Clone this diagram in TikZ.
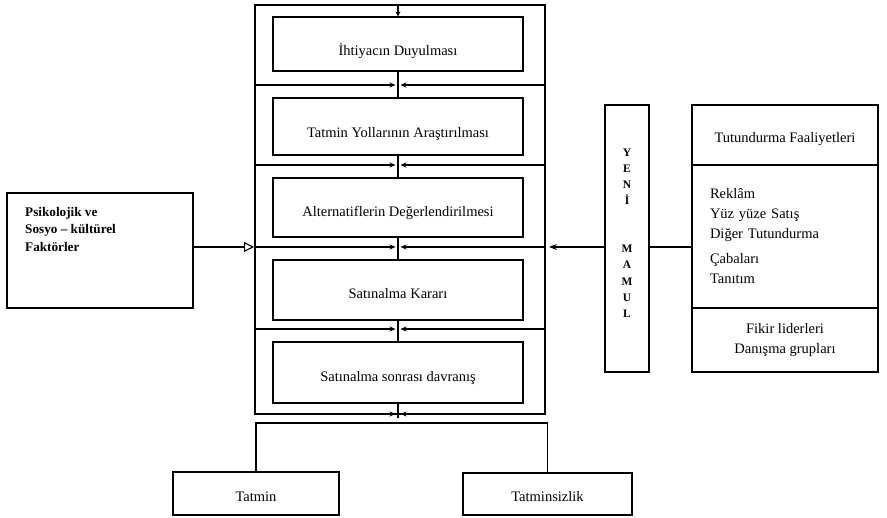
\documentclass[tikz,border=0pt]{standalone}
\usepackage{fontspec}
\setmainfont{Liberation Serif}
\usetikzlibrary{arrows.meta}
\begin{document}
\begin{tikzpicture}[x=1pt,y=-1pt,
  ln/.style={line width=1.1pt},
  rbox/.style={draw, line width=1.1pt, inner sep=0pt, font=\fontsize{14.5}{20}\selectfont},
  stagebox/.style={rbox, minimum width=250pt, text depth=0pt},
  sarr/.style={ln, -{Stealth[length=6pt,width=5pt]}, shorten >=2.5pt},
]
\useasboundingbox (0,0) rectangle (887,518);

% central stages
\node[stagebox, minimum height=54pt, text height=23pt] (b1) at (398,44) {İhtiyacın Duyulması};
\node[stagebox, minimum height=57pt, text height=23pt] (b2) at (398,126.5) {Tatmin Yollarının Araştırılması};
\node[stagebox, minimum height=59pt, text height=18pt] (b3) at (398,207.5) {Alternatiflerin Değerlendirilmesi};
\node[stagebox, minimum height=60pt, text height=17pt] (b4) at (398,290) {Satınalma Kararı};
\node[stagebox, minimum height=61pt, text height=18pt] (b5) at (398,372.5) {Satınalma sonrası davranış};

% outer frame
\coordinate (FTL) at (255,5);
\coordinate (FBR) at (545,414);
\draw[ln] (FTL) rectangle (FBR);

% top arrow
\coordinate (T0) at (398,5);
\draw[ln, -{Stealth[length=5pt,width=5pt]}] (T0) -- (b1.north);

% dividers
\coordinate (L1) at (255,85);  \coordinate (C1) at (398,85);  \coordinate (R1) at (545,85);
\coordinate (L2) at (255,165); \coordinate (C2) at (398,165); \coordinate (R2) at (545,165);
\coordinate (L3) at (255,247); \coordinate (C3) at (398,247); \coordinate (R3) at (545,247);
\coordinate (L4) at (255,329); \coordinate (C4) at (398,329); \coordinate (R4) at (545,329);
\coordinate (L5) at (255,414); \coordinate (C5) at (398,414); \coordinate (R5) at (545,414);
\foreach \i in {1,...,5}{
  \draw[sarr] (L\i) -- (C\i);
  \draw[sarr] (R\i) -- (C\i);
}

% central connectors
\draw[ln] (b1.south) -- (b2.north);
\draw[ln] (b2.south) -- (b3.north);
\draw[ln] (b3.south) -- (b4.north);
\draw[ln] (b4.south) -- (b5.north);
\coordinate (C5b) at (398,418);
\draw[ln] (b5.south) -- (C5b);

% left box
\node[rbox, minimum width=186pt, minimum height=115pt] (psy) at (100,250.5) {};
\node[anchor=north west, align=left, inner sep=0pt,
      font=\bfseries\fontsize{13.2}{17.5}\selectfont] (psyt) at (25,207)
  {Psikolojik ve\\Sosyo -- kültürel\\Faktörler};
\draw[ln, -{Triangle[open,length=10pt,width=10pt]}, shorten >=1pt] (psy.east |- L3) -- (L3);

% Yeni Mamul
\node[rbox, minimum width=44pt, minimum height=267pt, align=center,
      font=\bfseries\fontsize{11.5}{16.1}\selectfont] (ym) at (627,238.5)
  {Y\\E\\N\\İ\\[32.2pt]M\\A\\M\\U\\L\\[-5.1pt]\mbox{}};
\draw[ln, -{Stealth[length=8pt,width=6pt]}, shorten >=4pt] (ym.west |- R3) -- (R3);

% Tutundurma
\node[rbox, minimum width=186pt, minimum height=60pt, text height=16pt, text depth=0pt] (t1) at (785,135) {Tutundurma Faaliyetleri};
\node[rbox, minimum width=186pt, minimum height=143pt, text width=150pt, align=left] (t2) at (785,236.5)
  {Reklâm\\Yüz yüze Satış\\Diğer Tutundurma\\[5pt]Çabaları\\Tanıtım};
\node[rbox, minimum width=186pt, minimum height=64pt, align=center] (t3) at (785,340)
  {Fikir liderleri\\Danışma grupları};
\draw[ln] (ym.east |- R3) -- (t2.west |- R3);

% outcomes
\node[rbox, minimum width=166pt, minimum height=43pt, text height=16pt, text depth=0pt] (tat) at (256,493.5) {Tatmin};
\node[rbox, minimum width=169pt, minimum height=42pt, text height=16pt, text depth=0pt] (tats) at (547.5,494) {Tatminsizlik};
\coordinate (TL) at (256,423);
\coordinate (TR) at (547.5,423);
\draw[ln] (tat.north) -- (TL) -- (TR) -- (tats.north);
\end{tikzpicture}
\end{document}
